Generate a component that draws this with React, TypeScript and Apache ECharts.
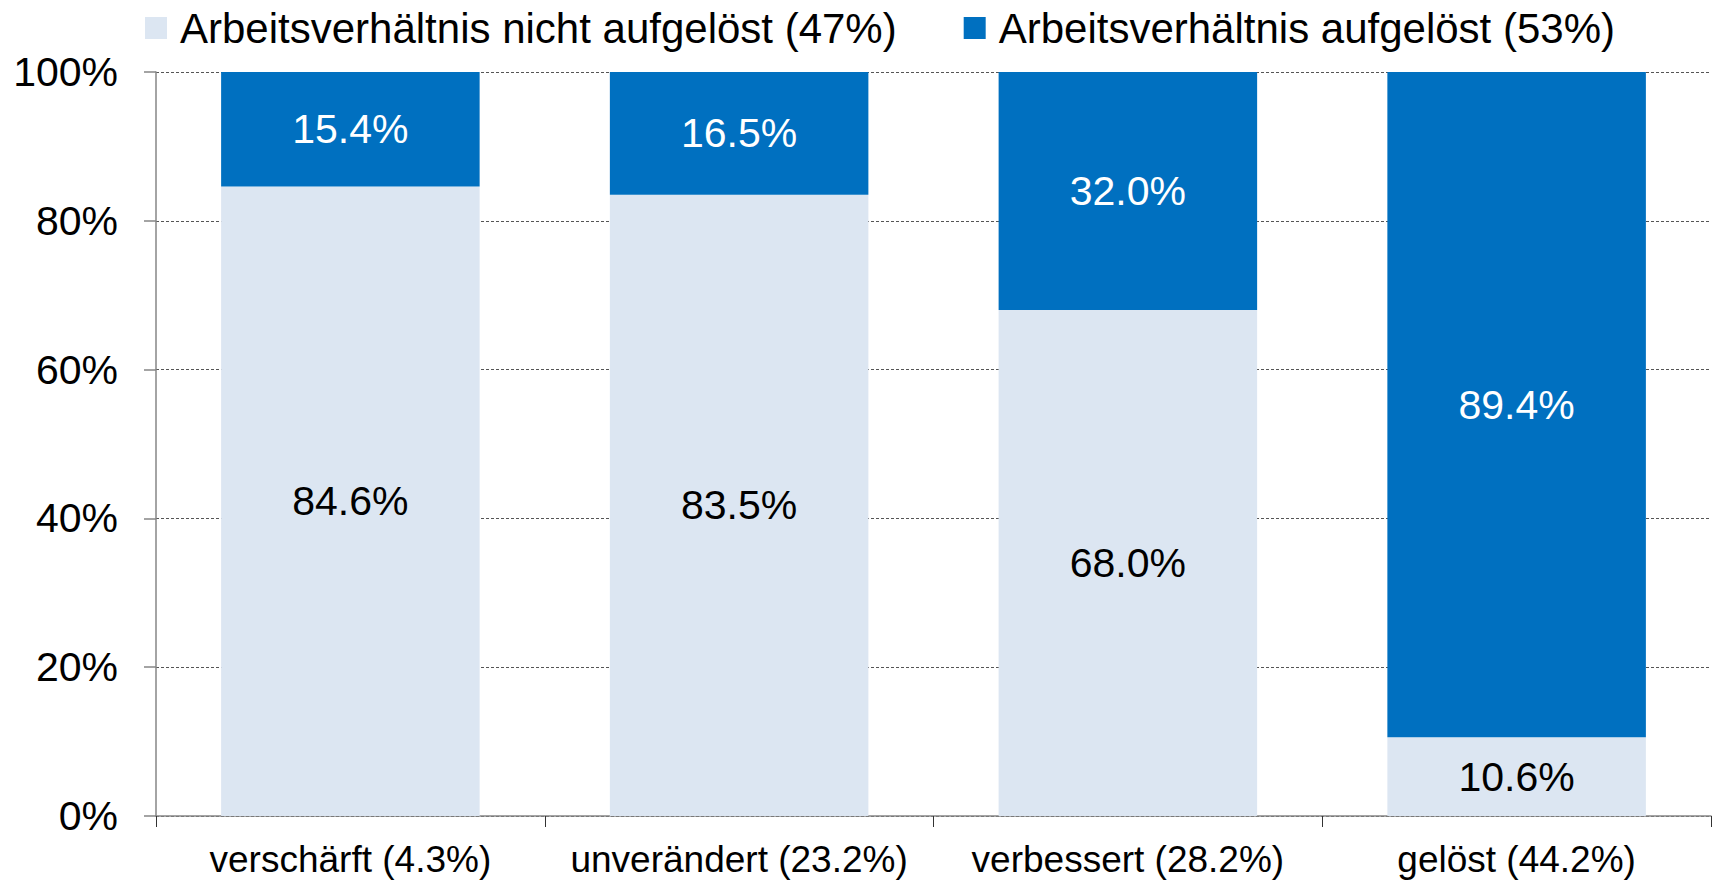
import React, { useEffect, useRef } from "react";
import * as echarts from "echarts";

const categories = [
  "verschärft (4.3%)",
  "unverändert (23.2%)",
  "verbessert (28.2%)",
  "gelöst (44.2%)",
];
const seriesNames = [
  "Arbeitsverhältnis nicht aufgelöst (47%)",
  "Arbeitsverhältnis aufgelöst (53%)",
];
const nichtAufgeloest = [84.6, 83.5, 68.0, 10.6];
const aufgeloest = [15.4, 16.5, 32.0, 89.4];
const yTicks = [0, 20, 40, 60, 80, 100];

const FONT = "'Liberation Sans', Arial, sans-serif";

export default function App() {
  const ref = useRef<HTMLDivElement>(null);
  useEffect(() => {
    if (!ref.current) return;
    const chart = echarts.init(ref.current, null, { renderer: "svg" });
    chart.setOption({
      animation: false,
      textStyle: { fontFamily: FONT },
      legend: {
        data: seriesNames,
        left: 140,
        top: 2,
        itemWidth: 22,
        itemHeight: 22,
        itemGap: 67,
        icon: "rect",
        textStyle: {
          fontFamily: FONT,
          fontSize: 42,
          color: "#000",
          padding: [0, 0, 0, 8],
        },
      },
      grid: { left: 156, right: 6, top: 72, bottom: 69, containLabel: false },
      xAxis: {
        type: "category",
        data: categories,
        axisLine: { lineStyle: { color: "#868686", width: 1.5 } },
        axisTick: { show: true, length: 11, lineStyle: { color: "#333", width: 1 } },
        axisLabel: {
          fontFamily: FONT,
          fontSize: 37,
          color: "#000",
          margin: 25,
          interval: 0,
        },
      },
      yAxis: {
        type: "value",
        min: yTicks[0],
        max: yTicks[yTicks.length - 1],
        interval: 20,
        axisLine: { show: true, lineStyle: { color: "#868686", width: 1.5 } },
        axisTick: { show: true, length: 12, lineStyle: { color: "#868686", width: 1.5 } },
        axisLabel: {
          fontFamily: FONT,
          fontSize: 41,
          color: "#000",
          margin: 38,
          formatter: (v: number) => v + "%",
        },
        splitLine: {
          show: true,
          lineStyle: { color: "#555", width: 1, type: [3, 2] },
        },
      },
      series: [
        {
          name: seriesNames[0],
          type: "bar",
          stack: "total",
          data: nichtAufgeloest,
          barCategoryGap: "33.5%",
          itemStyle: { color: "#DCE6F2" },
          label: {
            show: true,
            position: "inside",
            fontFamily: FONT,
            fontSize: 41,
            color: "#000",
            formatter: (p: any) => p.value.toFixed(1) + "%",
          },
        },
        {
          name: seriesNames[1],
          type: "bar",
          stack: "total",
          data: aufgeloest,
          barCategoryGap: "33.5%",
          itemStyle: { color: "#0070C0" },
          label: {
            show: true,
            position: "inside",
            fontFamily: FONT,
            fontSize: 41,
            color: "#fff",
            formatter: (p: any) => p.value.toFixed(1) + "%",
          },
        },
      ],
    });
    return () => chart.dispose();
  }, []);
  return <div ref={ref} style={{ width: 1717, height: 885, position: "absolute", left: 0, top: 0 }} />;
}
